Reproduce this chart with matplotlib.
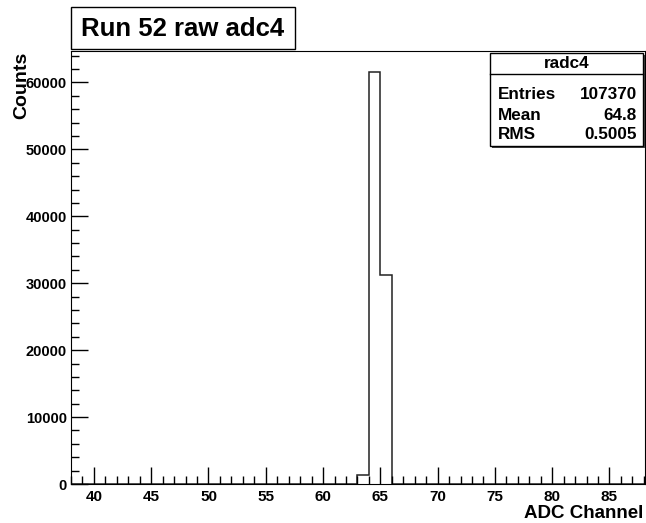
import numpy as np
import matplotlib.pyplot as plt
from matplotlib.ticker import MultipleLocator

plt.rcParams['font.family'] = ['Liberation Sans', 'DejaVu Sans']
plt.rcParams['font.weight'] = 'bold'

# raw adc4 spectrum, 1 channel per bin
bin_edges = np.arange(38, 89, 1)
channels = [63, 64, 65]
counts = [1400, 61500, 31300]
hname = 'radc4'
entries = 107370
mean = 64.8
rms = 0.5005

h = np.zeros(len(bin_edges) - 1)
for c, n in zip(channels, counts):
    h[c - bin_edges[0]] = n

W, H = 646, 523
def fx(px):
    return px / W
def fy(py):
    return 1 - py / H

fig = plt.figure(figsize=(W / 100, H / 100), dpi=100)
ax = fig.add_axes([fx(71), fy(484), fx(645) - fx(71), fy(51) - fy(484)])
ax.stairs(h, bin_edges, color='#222222', lw=1.1)
ax.set_xlim(38, 88.1)
ax.set_ylim(0, 64700)

# ROOT style axes: ticks inside, bottom and left only
ax.xaxis.set_major_locator(MultipleLocator(5))
ax.xaxis.set_minor_locator(MultipleLocator(1))
ax.yaxis.set_major_locator(MultipleLocator(10000))
ax.yaxis.set_minor_locator(MultipleLocator(2000))
ax.tick_params(which='both', direction='in', top=False, right=False, width=1)
ax.tick_params(which='major', length=12)
ax.tick_params(which='minor', length=6)
ax.tick_params(axis='x', labelsize=11, pad=4)
ax.tick_params(axis='y', labelsize=10.5, pad=3)
ax.set_xticks(np.arange(40, 90, 5))
for lab in ax.get_xticklabels() + ax.get_yticklabels():
    lab.set_fontweight('bold')

fig.text(fx(643), fy(513), 'ADC Channel', ha='right', va='center',
         fontsize=13.5, fontweight='bold')
fig.text(fx(22), fy(52), 'Counts', ha='center', va='top', rotation=90,
         fontsize=14, fontweight='bold')

# title box
fig.add_artist(plt.Rectangle((fx(71), fy(49)), fx(295) - fx(71), fy(7) - fy(49),
                             transform=fig.transFigure, fc='white',
                             ec='black', lw=1))
fig.text(fx(183), fy(29), 'Run 52 raw adc4', ha='center', va='center',
         fontsize=18.5, fontweight='bold')

# stats box with shadow
x0, x1 = fx(490), fx(643)
y0, y1 = fy(146), fy(53)
fig.add_artist(plt.Rectangle((x0 + 2 / W, y0 - 2 / H), x1 - x0, y1 - y0,
                             transform=fig.transFigure, fc='#444444',
                             ec='none', zorder=4))
fig.add_artist(plt.Rectangle((x0, y0), x1 - x0, y1 - y0,
                             transform=fig.transFigure, fc='white',
                             ec='black', lw=1, zorder=5))
fig.add_artist(plt.Line2D([x0, x1], [fy(74), fy(74)],
                          transform=fig.transFigure, color='black', lw=1,
                          zorder=6))
fig.text((x0 + x1) / 2, fy(64), hname, ha='center', va='center',
         fontsize=12.3, fontweight='bold', zorder=7)
rows = [('Entries', f'{entries}'), ('Mean', f'{mean}'), ('RMS', f'{rms}')]
for i, (k, v) in enumerate(rows):
    y = fy(95 + i * 20)
    fig.text(fx(498), y, k, ha='left', va='center', fontsize=12.3,
             fontweight='bold', zorder=7)
    fig.text(fx(637), y, v, ha='right', va='center', fontsize=12.3,
             fontweight='bold', zorder=7)

fig.savefig('out.png', dpi=100)
